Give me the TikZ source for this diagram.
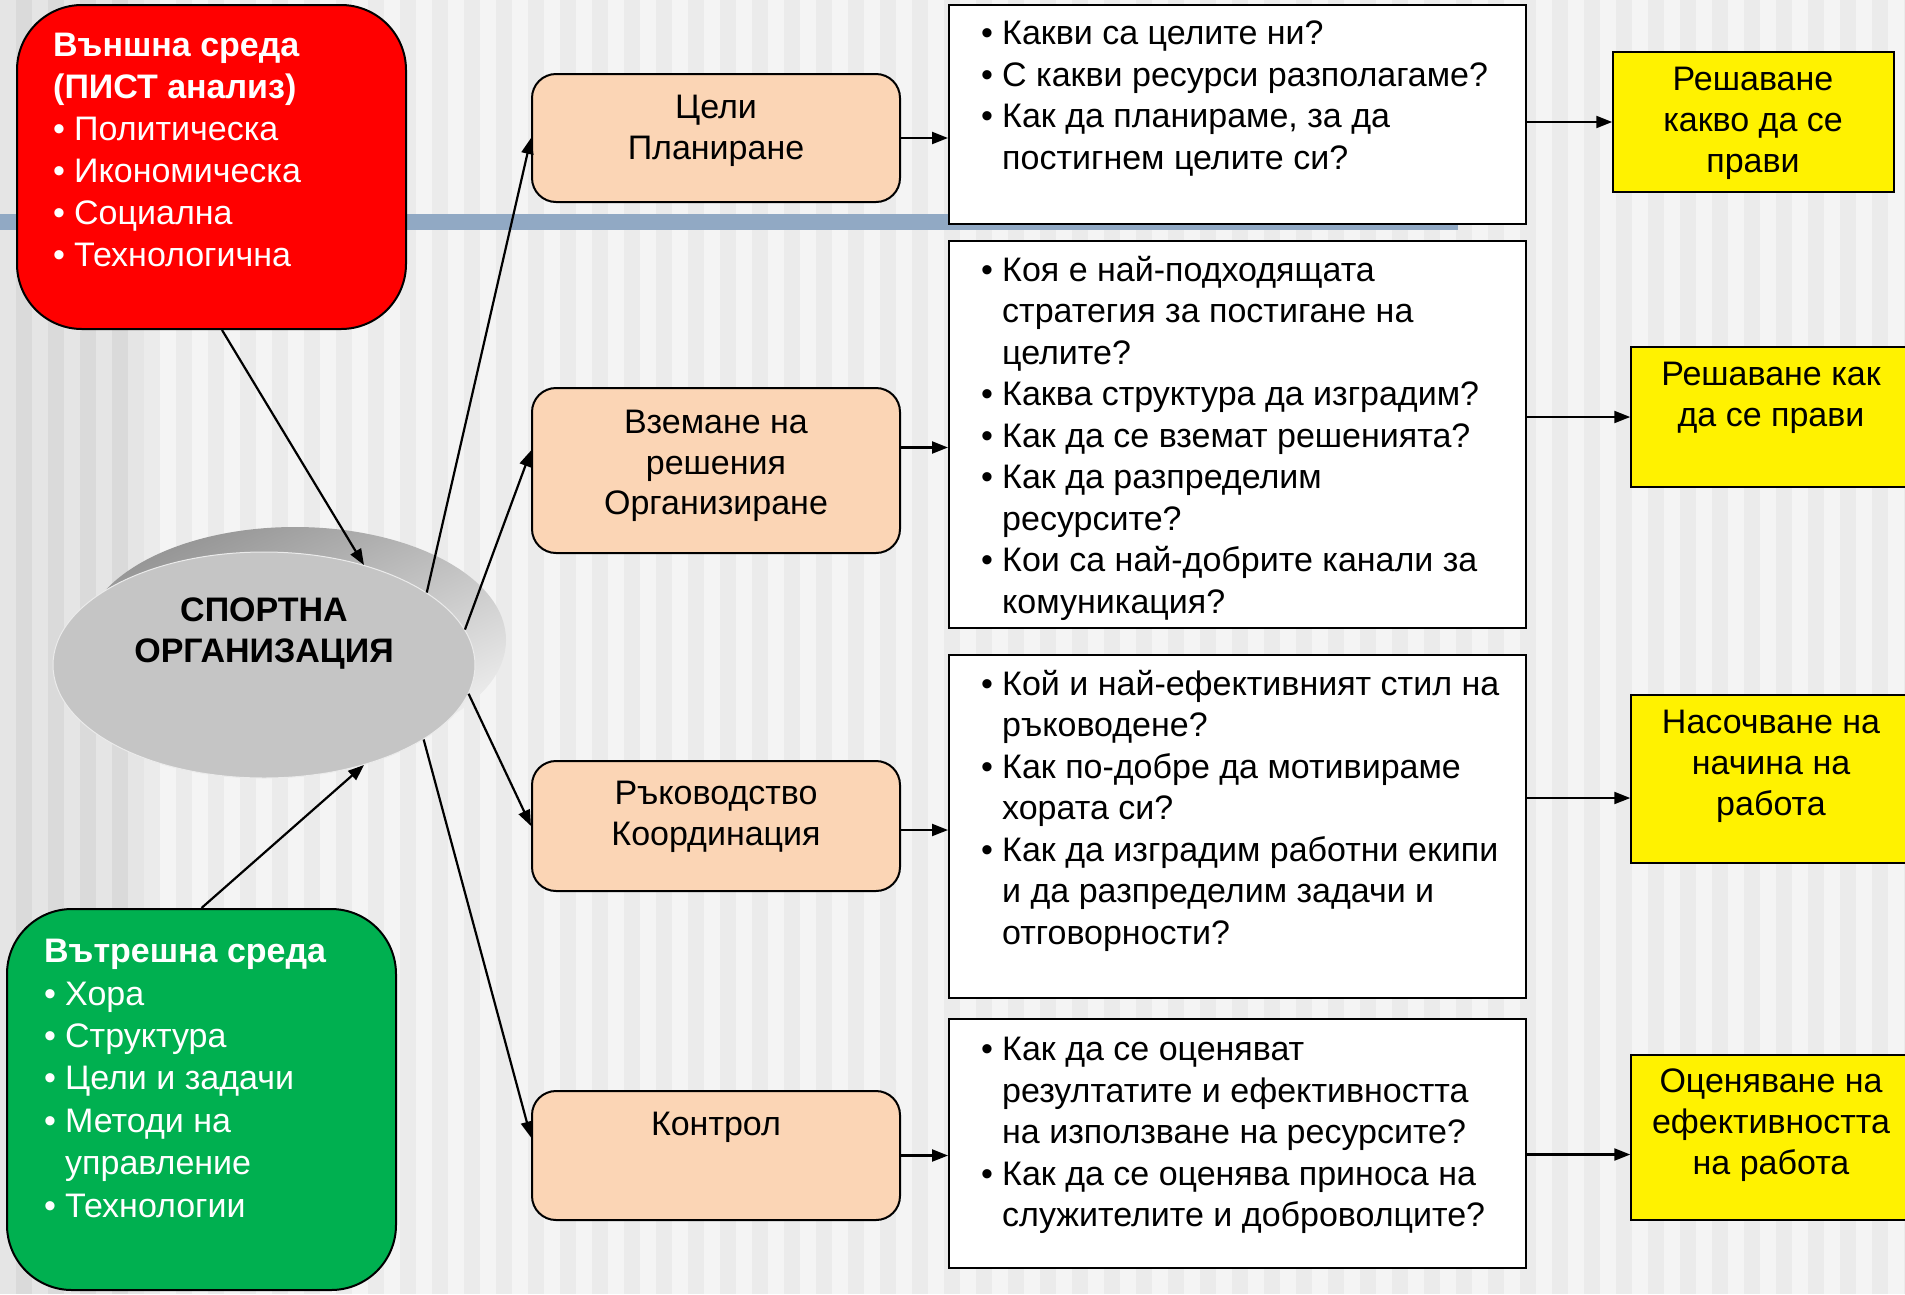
\documentclass[tikz,border=0pt]{standalone}
\usepackage{fontspec}
\setmainfont{Liberation Sans}
\usetikzlibrary{arrows.meta,shapes.geometric}
\definecolor{peach}{RGB}{251,213,181}
\definecolor{envred}{RGB}{255,0,0}
\definecolor{envgreen}{RGB}{0,176,80}
\definecolor{barblue}{RGB}{145,169,196}
\definecolor{stripeA}{RGB}{244,244,244}
\definecolor{stripeB}{RGB}{235,235,235}
\definecolor{stripeC}{RGB}{229,229,229}
\definecolor{stripeD}{RGB}{218,218,218}
\definecolor{orggray}{RGB}{197,197,197}
\newcommand{\bul}{\makebox[21pt][l]{•}}
\newcommand{\cnt}{\hspace*{21pt}}
\begin{document}
\begin{tikzpicture}[x=1pt, y=-1pt,
  txt/.style = {inner sep=0pt, font=\fontsize{34}{42}\selectfont},
  qtxt/.style = {txt, align=left, anchor=north west, font=\fontsize{34}{41.5}\selectfont},
  stxt/.style = {txt, align=center, anchor=north, font=\fontsize{34}{40.5}\selectfont},
  atxt/.style = {txt, align=center, anchor=north, font=\fontsize{34}{41}\selectfont},
  env/.style = {draw, line width=2pt, rounded corners=65pt, inner sep=0pt, minimum width=389pt},
  stage/.style = {draw, line width=2pt, fill=peach, rounded corners=24pt, inner sep=0pt, minimum width=368pt},
  quest/.style = {draw, line width=2pt, fill=white, inner sep=0pt, minimum width=577pt},
  answer/.style = {draw, line width=1.5pt, fill=yellow, inner sep=0pt},
  conn/.style = {line width=2.2pt, -{Triangle[length=16pt,width=12pt]}}]
	\useasboundingbox (0,0) rectangle (1905,1294);
	% background
	\fill[stripeA] (0,0) rectangle (1905,1294);
	\foreach \sx in {16,48,...,1904}
		\fill[stripeB] (\sx,0) rectangle ++(16,1294);
	\fill[stripeC] (0,0) rectangle (144,1294);
	\foreach \sx in {16,48,...,128}
		\fill[stripeD] (\sx,0) rectangle ++(16,1294);
	\fill[barblue] (0,214) rectangle (1458,230);
	% environment boxes
	\node[env, fill=envred, minimum height=324pt] (ext) at (211.5,167) {};
	\node[txt, text=white, anchor=north west, align=left] (exttext) at (53,33)
		{\textbf{Външна среда}\\\textbf{(ПИСТ анализ)}\\\bul Политическа\\\bul Икономическа\\\bul Социална\\\bul Технологична};
	\node[env, fill=envgreen, minimum height=381pt] (int) at (201.5,1099.5) {};
	\node[txt, text=white, anchor=north west, align=left, font=\fontsize{34}{42.4}\selectfont] (inttext) at (44,939)
		{\textbf{Вътрешна среда}\\\bul Хора\\\bul Структура\\\bul Цели и задачи\\\bul Методи на\\\cnt управление\\\bul Технологии};
	% organisation
	\shade[top color=black!42, bottom color=black!6, shading angle=25] (295,640) ellipse [x radius=211pt, y radius=113pt];
	\node[ellipse, fill=orggray, draw=black!8, line width=1pt, inner sep=0pt, minimum width=422pt, minimum height=226pt] (org) at (264,665) {};
	\node[txt, font=\fontsize{34}{41}\selectfont\bfseries, align=center, anchor=north] (orgtext) at (264,598) {СПОРТНА\\ОРГАНИЗАЦИЯ};
	% functions
	\node[stage, minimum height=128pt] (plan) at (716,138) {};
	\node[stage, minimum height=165pt] (decide) at (716,470.5) {};
	\node[stage, minimum height=130pt] (lead) at (716,826) {};
	\node[stage, minimum height=129pt] (ctrl) at (716,1155.5) {};
	\node[stxt] (plantext) at (716,95) {Цели\\Планиране};
	\node[stxt] (decidetext) at (716,410) {Вземане на\\решения\\Организиране};
	\node[stxt] (leadtext) at (716,781) {Ръководство\\Координация};
	\node[stxt] (ctrltext) at (716,1112) {Контрол};
	% questions
	\node[quest, minimum height=219pt] (q1) at (1237.5,114.5) {};
	\node[quest, minimum height=387pt] (q2) at (1237.5,434.5) {};
	\node[quest, minimum height=343pt] (q3) at (1237.5,826.5) {};
	\node[quest, minimum height=249pt] (q4) at (1237.5,1143.5) {};
	\node[qtxt] (q1text) at (981,21)
		{\bul Какви са целите ни?\\\bul С какви ресурси разполагаме?\\\bul Как да планираме, за да\\\cnt постигнем целите си?};
	\node[qtxt] (q2text) at (981,256)
		{\bul Коя е най-подходящата\\\cnt стратегия за постигане на\\\cnt целите?\\\bul Каква структура да изградим?\\\bul Как да се вземат решенията?\\\bul Как да разпределим\\\cnt ресурсите?\\\bul Кои са най-добрите канали за\\\cnt комуникация?};
	\node[qtxt] (q3text) at (981,670)
		{\bul Кой и най-ефективният стил на\\\cnt ръководене?\\\bul Как по-добре да мотивираме\\\cnt хората си?\\\bul Как да изградим работни екипи\\\cnt и да разпределим задачи и\\\cnt отговорности?};
	\node[qtxt] (q4text) at (981,1037)
		{\bul Как да се оценяват\\\cnt резултатите и ефективността\\\cnt на използване на ресурсите?\\\bul Как да се оценява приноса на\\\cnt служителите и доброволците?};
	% results
	\node[answer, minimum width=281pt, minimum height=140pt] (ans1) at (1753.5,122) {};
	\node[answer, minimum width=284pt, minimum height=140pt] (ans2) at (1773,417) {};
	\node[answer, minimum width=284pt, minimum height=168pt] (ans3) at (1773,779) {};
	\node[answer, minimum width=284pt, minimum height=165pt] (ans4) at (1773,1137.5) {};
	\node[atxt] (ans1text) at (1753,67) {Решаване\\какво да се\\прави};
	\node[atxt] (ans2text) at (1771,362) {Решаване как\\да се прави};
	\node[atxt] (ans3text) at (1771,710) {Насочване на\\начина на\\работа};
	\node[atxt] (ans4text) at (1771,1069) {Оценяване на\\ефективността\\на работа};
	% connectors
	\draw[conn] ([xshift=10.5pt]ext.south) -- (org.45);
	\draw[conn] (int.north) -- (org.-45);
	\draw[conn] (org.24) -- (plan.west);
	\draw[conn] (org.10) -- ([yshift=20pt]decide.west);
	\draw[conn] (org.-8) -- (lead.west);
	\draw[conn] (org.-25) -- ([yshift=18pt]ctrl.west);
	\draw[conn] (plan.east) -- (plan.east -| q1.west);
	\draw[conn] ([yshift=23pt]decide.east) -- ([yshift=23pt]decide.east -| q2.west);
	\draw[conn] ([yshift=-4pt]lead.east) -- ([yshift=-4pt]lead.east -| q3.west);
	\draw[conn] (ctrl.east) -- (ctrl.east -| q4.west);
	\draw[conn] (q1.east |- ans1.west) -- (ans1.west);
	\draw[conn] (q2.east |- ans2.west) -- (ans2.west);
	\draw[conn] ([yshift=-19pt]q3.east |- ans3.west) -- ([yshift=-19pt]ans3.west);
	\draw[conn] ([yshift=-17pt]q4.east |- ans4.west) -- ([yshift=-17pt]ans4.west);
\end{tikzpicture}
\end{document}
